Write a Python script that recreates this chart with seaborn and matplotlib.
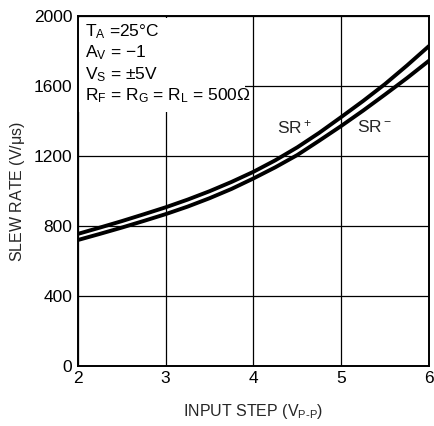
import matplotlib
matplotlib.use("Agg")
import matplotlib.pyplot as plt
import seaborn as sns
import pandas as pd
from matplotlib.patches import Rectangle

# values
input_step = [2.0, 2.25, 2.5, 2.75, 3.0, 3.25, 3.5, 3.75, 4.0,
              4.25, 4.5, 4.75, 5.0, 5.25, 5.5, 5.75, 6.0]
sr_plus = [755, 791, 828, 867, 907, 951, 999, 1052, 1110,
           1176, 1250, 1333, 1423, 1515, 1612, 1718, 1829]
sr_minus = [720, 755, 791, 829, 868, 911, 959, 1012, 1072,
            1136, 1206, 1288, 1372, 1460, 1552, 1646, 1745]
x_ticks = [2, 3, 4, 5, 6]
y_ticks = [0, 400, 800, 1200, 1600, 2000]

sns.set_theme(style="white")
fam = ["Liberation Sans Narrow", "Liberation Sans", "DejaVu Sans"]
plt.rcParams["font.family"] = fam
plt.rcParams["mathtext.fontset"] = "custom"
plt.rcParams["mathtext.rm"] = "Liberation Sans"
plt.rcParams["mathtext.it"] = "Liberation Sans"

df = pd.DataFrame({"step": input_step * 2,
                   "rate": sr_plus + sr_minus,
                   "curve": ["SR+"] * len(sr_plus) + ["SR-"] * len(sr_minus)})

fig = plt.figure(figsize=(4.35, 4.26), dpi=100)
ax = fig.add_axes([0.179, 0.141, 0.807, 0.821])

sns.lineplot(data=df, x="step", y="rate", units="curve", estimator=None,
             color="black", linewidth=2.8, ax=ax, legend=False)

ax.set_xlim(2, 6)
ax.set_ylim(0, 2000)
ax.set_xticks(x_ticks)
ax.set_yticks(y_ticks)
ax.grid(True, color="black", linewidth=0.9)
ax.tick_params(length=0, labelsize=12.5, colors="black", pad=4)
for s in ax.spines.values():
    s.set_color("black")
    s.set_linewidth(1.4)

ax.set_xlabel(r"INPUT STEP (V$_\mathregular{P\text{-}P}$)", fontsize=11.5, labelpad=11)
ax.set_ylabel(r"SLEW RATE (V/$\mathregular{\mu}$s)", fontsize=11.5, labelpad=5)

# white box behind the conditions text hides the grid there
ax.add_patch(Rectangle((2, 1450), 1.9, 540, facecolor="white",
                       edgecolor="none", zorder=1))

lines = [r"T$_\mathregular{A}$ =25°C",
         r"A$_\mathregular{V}$ = −1",
         r"V$_\mathregular{S}$ = ±5V",
         r"R$_\mathregular{F}$ = R$_\mathregular{G}$ = R$_\mathregular{L}$ = 500Ω"]
for i, t in enumerate(lines):
    ax.text(0.02, 0.983 - i * 0.061, t, transform=ax.transAxes,
            fontsize=12.5, va="top", ha="left", color="black", zorder=3)

ax.text(4.47, 1366, r"SR$^+$", fontsize=12.5, ha="center", va="center")
ax.text(5.38, 1366, r"SR$^−$", fontsize=12.5, ha="center", va="center")

fig.savefig("out.png", dpi=100)
